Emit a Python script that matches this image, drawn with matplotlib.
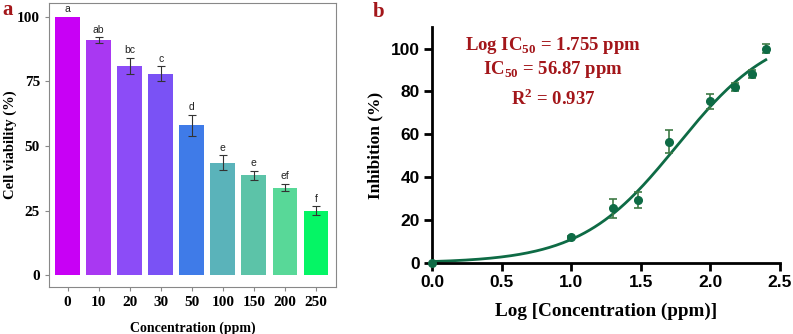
import numpy as np
import matplotlib.pyplot as plt

plt.rcParams['mathtext.fontset'] = 'custom'
plt.rcParams['mathtext.rm'] = 'Liberation Serif:bold'
plt.rcParams['mathtext.bf'] = 'Liberation Serif:bold'

# panel a: cell viability
conc_labels = ['0', '10', '20', '30', '50', '100', '150', '200', '250']
viability = [100, 91, 81, 78, 58, 43.6, 38.7, 33.9, 25.0]
viability_err = [0, 1.1, 3.2, 2.9, 4.0, 2.8, 1.7, 1.5, 1.6]
sig_letters = ['a', 'ab', 'bc', 'c', 'd', 'e', 'e', 'ef', 'f']
bar_colors = ['#C800F5', '#A938F2', '#8C4CF7', '#7A52F5', '#3F7BE8',
              '#5AB3BA', '#5CC3A8', '#58D898', '#05F565']

# panel b: inhibition vs log concentration
log_conc = [0.0, 1.0, 1.301, 1.477, 1.699, 2.0, 2.176, 2.301, 2.398]
inhibition = [0.0, 12.0, 25.5, 29.5, 56.5, 75.3, 82.0, 88.0, 100.0]
inhibition_err = [0.0, 0.8, 4.3, 3.8, 5.4, 3.5, 1.9, 1.9, 1.9]
# fitted four-parameter logistic
fit_top, fit_bottom, fit_logec, fit_hill = 110.0, 0.0, 1.764, 1.25

serif = 'Liberation Serif'
sans = 'Liberation Sans'
dark_red = '#A3161A'
green = '#0E6B45'

fig = plt.figure(figsize=(7.93, 3.34), dpi=100)

# ---- panel a ----
ax1 = fig.add_axes([0.0618, 0.1407, 0.3619, 0.8503])
x = np.arange(len(conc_labels))
ax1.bar(x, viability, width=0.8, color=bar_colors, zorder=2)
ax1.errorbar(x[1:], viability[1:], yerr=viability_err[1:], fmt='none',
             ecolor='#333333', elinewidth=0.8, capsize=3, capthick=0.8, zorder=3)
for xi, v, e, s in zip(x, viability, viability_err, sig_letters):
    ax1.text(xi, v + e + 1.0, s, ha='center', va='bottom', fontsize=7.5,
             family=sans, color='#222222')
ax1.set_xlim(-0.6, 8.645)
ax1.set_ylim(-4.6, 105.4)
ax1.set_xticks(x)
ax1.set_xticklabels(conc_labels)
ax1.set_yticks([0, 25, 50, 75, 100])
for sp in ax1.spines.values():
    sp.set_color('#888888')
    sp.set_linewidth(0.8)
ax1.tick_params(colors='#888888', length=3, width=0.8)
for lbl in ax1.get_xticklabels() + ax1.get_yticklabels():
    lbl.set_family(serif)
    lbl.set_weight('bold')
    lbl.set_fontsize(11)
    lbl.set_color('black')
ax1.set_ylabel('Cell viability (%)', family=serif, fontweight='bold', fontsize=10.5)
ax1.yaxis.set_label_coords(-0.113, 0.5)
ax1.set_xlabel('Concentration (ppm)', family=serif, fontweight='bold', fontsize=10, labelpad=9)

# ---- panel b ----
ax2 = fig.add_axes([0.5448, 0.2126, 0.4388, 0.7064])
xs = np.linspace(0, max(log_conc), 200)
ys = fit_bottom + (fit_top - fit_bottom) / (1 + 10 ** ((fit_logec - xs) * fit_hill))
ax2.plot(xs, ys, color=green, lw=2, zorder=2, clip_on=False)
ax2.errorbar(log_conc, inhibition, yerr=inhibition_err, fmt='o', color=green,
             ms=5.5, ecolor='#3E7A45', elinewidth=1.2, capsize=3, capthick=1.2,
             zorder=3, clip_on=False)
ax2.set_xlim(0, 2.5)
ax2.set_ylim(0, 110)
ax2.set_xticks([0.0, 0.5, 1.0, 1.5, 2.0, 2.5])
ax2.set_xticklabels(['0.0', '0.5', '1.0', '1.5', '2.0', '2.5'])
ax2.set_yticks([0, 20, 40, 60, 80, 100])
ax2.spines['top'].set_visible(False)
ax2.spines['right'].set_visible(False)
for sp in ['left', 'bottom']:
    ax2.spines[sp].set_linewidth(2)
ax2.tick_params(length=6, width=2, pad=3)
for lbl in ax2.get_xticklabels() + ax2.get_yticklabels():
    lbl.set_family(sans)
    lbl.set_weight('bold')
    lbl.set_fontsize(12.5)
ax2.set_ylabel('Inhibition (%)', family=serif, fontweight='bold', fontsize=12.5, labelpad=5)
ax2.set_xlabel('Log [Concentration (ppm)]', family=serif, fontweight='bold', fontsize=13.8, labelpad=9)

txt = dict(ha='center', va='center', fontsize=13.5, fontweight='bold', color=dark_red,
           family=serif)
ax2.text(0.87, 101.5, r'Log IC$_{\mathbf{50}}$ = 1.755 ppm', **txt)
ax2.text(0.87, 90.0, r'IC$_{\mathbf{50}}$ = 56.87 ppm', **txt)
ax2.text(0.87, 76.5, r'R$^{\mathbf{2}}$ = 0.937', **txt)

fig.text(0.003, 0.955, 'a', family=serif, fontweight='bold', fontsize=15, color=dark_red)
fig.text(0.470, 0.950, 'b', family=serif, fontweight='bold', fontsize=15, color=dark_red)

fig.savefig('out.png', dpi=100)
